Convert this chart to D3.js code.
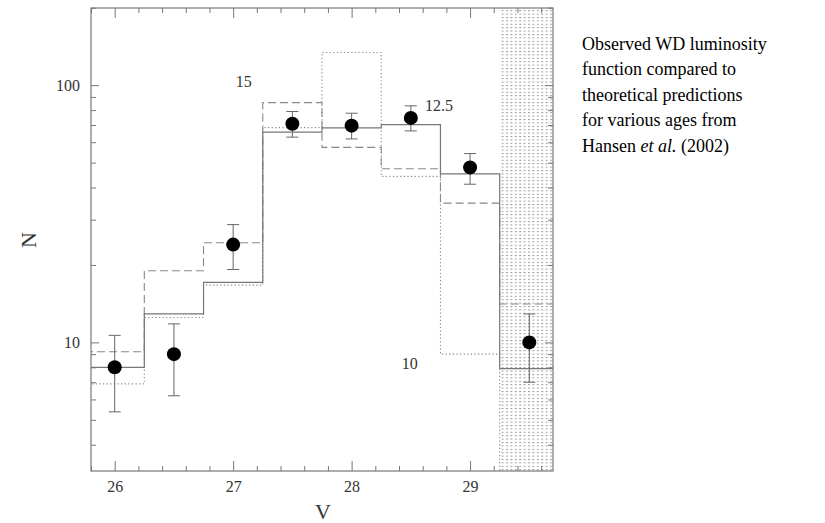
<!DOCTYPE html>
<html>
<head>
<meta charset="utf-8">
<script src="https://cdn.jsdelivr.net/npm/d3@7"></script>
<style>
body { margin: 0; background: #fff; }
svg { display: block; }
.axis path, .axis line { stroke: #777; stroke-width: 1; }
.axis text { font-family: "Liberation Serif", serif; font-size: 16px; fill: #333; }
</style>
</head>
<body>
<svg id="chart"></svg>
<script>
"use strict";

var svg_width = 825;
var svg_height = 523;

// bin left edges (bins are 0.5 mag wide)
var binEdges = [25.75, 26.25, 26.75, 27.25, 27.75, 28.25, 28.75, 29.25, 29.75];
// model histograms (different ages)
var model12 = [8.0, 12.9, 17.1, 65.7, 68.2, 70.2, 45.2, 7.9];   // solid
var model15 = [9.2, 19.0, 24.4, 85.5, 57.3, 47.3, 34.8, 14.1];  // dashed
var model10 = [6.9, 12.5, 16.7, 68.4, 134, 44.2, 9.0, 2.0];     // dotted

// observed counts with error bars
var obsV = [26, 26.5, 27, 27.5, 28, 28.5, 29, 29.5];
var obsN = [8.0, 9.0, 24.0, 70.8, 69.6, 74.6, 47.9, 10.0];
var obsHi = [10.65, 11.8, 28.7, 79.0, 77.8, 83.1, 54.2, 12.9];
var obsLo = [5.37, 6.2, 19.2, 62.8, 61.8, 66.4, 41.2, 7.0];

var xMajor = [26, 27, 28, 29];
var yMajor = [10, 100];
var yMinor = [4, 5, 6, 7, 8, 9, 20, 30, 40, 50, 60, 70, 80, 90, 200];

var ageLabels = [
    {text: "15", v: 27.09, n: 98.5, anchor: "middle"},
    {text: "12.5", v: 28.62, n: 79, anchor: "start"},
    {text: "10", v: 28.49, n: 7.9, anchor: "middle"}
];

var noteLines = ["Observed WD luminosity", "function compared to",
    "theoretical predictions", "for various ages from"];

var pLeft = 91, pRight = 553, pTop = 8, pBottom = 471;

var svg = d3.select("#chart")
    .attr("width", svg_width)
    .attr("height", svg_height);

var xScale = d3.scaleLinear()
    .domain([25.8, 29.7])
    .range([pLeft, pRight]);
var yScale = d3.scaleLog()
    .domain([Math.pow(10, 0.5), Math.pow(10, 2.3)])
    .range([pBottom, pTop]);

var defs = svg.append("defs");
defs.append("clipPath").attr("id", "plotclip")
    .append("rect")
    .attr("x", pLeft).attr("y", pTop)
    .attr("width", pRight - pLeft).attr("height", pBottom - pTop);

var pat = defs.append("pattern")
    .attr("id", "stipple")
    .attr("patternUnits", "userSpaceOnUse")
    .attr("width", 4.4).attr("height", 3.4);
pat.append("rect").attr("x", 0).attr("y", 0)
    .attr("width", 2).attr("height", 1).attr("fill", "#9a9a9a");

// stippled incomplete region
svg.append("rect")
    .attr("x", xScale(29.25))
    .attr("y", pTop)
    .attr("width", xScale(29.7) - xScale(29.25))
    .attr("height", pBottom - pTop)
    .attr("fill", "url(#stipple)");

var plot = svg.append("g").attr("clip-path", "url(#plotclip)");

function stepPoints(vals) {
    var pts = vals.map(function(v, i) { return [binEdges[i], v]; });
    pts.push([binEdges[vals.length], vals[vals.length - 1]]);
    return pts;
}

var line = d3.line()
    .x(function(d) { return xScale(d[0]); })
    .y(function(d) { return yScale(d[1]); })
    .curve(d3.curveStepAfter);

var series = [
    {vals: model10, dash: "1.2,2.4", color: "#888", width: 1.1},
    {vals: model15, dash: "8,4", color: "#888", width: 1.1},
    {vals: model12, dash: null, color: "#777", width: 1.2}
];

plot.selectAll(".hist")
    .data(series)
    .enter()
    .append("path")
    .attr("class", "hist")
    .attr("fill", "none")
    .attr("stroke", function(d) { return d.color; })
    .attr("stroke-width", function(d) { return d.width; })
    .attr("stroke-dasharray", function(d) { return d.dash; })
    .attr("d", function(d) { return line(stepPoints(d.vals)); });

// error bars
var obs = obsV.map(function(v, i) {
    return {v: v, n: obsN[i], hi: obsHi[i], lo: obsLo[i]};
});
var eb = plot.selectAll(".err").data(obs).enter().append("g").attr("class", "err")
    .attr("stroke", "#666").attr("stroke-width", 1);
eb.append("line")
    .attr("x1", function(d) { return xScale(d.v); })
    .attr("x2", function(d) { return xScale(d.v); })
    .attr("y1", function(d) { return yScale(d.hi); })
    .attr("y2", function(d) { return yScale(d.lo); });
eb.append("line")
    .attr("x1", function(d) { return xScale(d.v) - 6; })
    .attr("x2", function(d) { return xScale(d.v) + 6; })
    .attr("y1", function(d) { return yScale(d.hi); })
    .attr("y2", function(d) { return yScale(d.hi); });
eb.append("line")
    .attr("x1", function(d) { return xScale(d.v) - 6; })
    .attr("x2", function(d) { return xScale(d.v) + 6; })
    .attr("y1", function(d) { return yScale(d.lo); })
    .attr("y2", function(d) { return yScale(d.lo); });

plot.selectAll(".point").data(obs).enter()
    .append("circle")
    .attr("class", "point")
    .attr("r", 7)
    .attr("cx", function(d) { return xScale(d.v); })
    .attr("cy", function(d) { return yScale(d.n); })
    .attr("fill", "#000");

// age labels
svg.selectAll(".age").data(ageLabels).enter()
    .append("text")
    .attr("class", "age")
    .attr("x", function(d) { return xScale(d.v); })
    .attr("y", function(d) { return yScale(d.n); })
    .attr("text-anchor", function(d) { return d.anchor; })
    .style("font-family", "Liberation Serif, serif")
    .style("font-size", "16px")
    .style("fill", "#333")
    .text(function(d) { return d.text; });

// axes: ticks point inwards on all four sides
var xMinor = d3.range(25.8, 29.71, 0.2).filter(function(v) {
    return Math.abs(v - Math.round(v)) > 0.01;
});

function drawAxis(axis, transform, cls) {
    var g = svg.append("g").attr("class", "axis " + cls)
        .attr("transform", transform)
        .call(axis);
    g.select(".domain").remove();
    return g;
}

drawAxis(d3.axisBottom(xScale).tickValues(xMajor).tickSize(-10).tickPadding(10)
    .tickFormat(d3.format("d")), "translate(0," + pBottom + ")", "axis--x");
drawAxis(d3.axisBottom(xScale).tickValues(xMinor).tickSize(-5).tickFormat(""),
    "translate(0," + pBottom + ")", "axis--x-minor");
drawAxis(d3.axisTop(xScale).tickValues(xMajor).tickSize(-10).tickFormat(""),
    "translate(0," + pTop + ")", "axis--x2");
drawAxis(d3.axisTop(xScale).tickValues(xMinor).tickSize(-5).tickFormat(""),
    "translate(0," + pTop + ")", "axis--x2-minor");

drawAxis(d3.axisLeft(yScale).tickValues(yMajor).tickSize(-8).tickPadding(11)
    .tickFormat(d3.format("d")), "translate(" + pLeft + ",0)", "axis--y");
drawAxis(d3.axisLeft(yScale).tickValues(yMinor).tickSize(-5).tickFormat(""),
    "translate(" + pLeft + ",0)", "axis--y-minor");
drawAxis(d3.axisRight(yScale).tickValues(yMajor).tickSize(-8).tickFormat(""),
    "translate(" + pRight + ",0)", "axis--y2");
drawAxis(d3.axisRight(yScale).tickValues(yMinor).tickSize(-5).tickFormat(""),
    "translate(" + pRight + ",0)", "axis--y2-minor");

// frame
svg.append("rect")
    .attr("x", pLeft).attr("y", pTop)
    .attr("width", pRight - pLeft).attr("height", pBottom - pTop)
    .attr("fill", "none").attr("stroke", "#777").attr("stroke-width", 1.2);

// axis titles
svg.append("text")
    .attr("text-anchor", "middle")
    .attr("x", (pLeft + pRight) / 2 + 1)
    .attr("y", 519)
    .style("font-family", "Liberation Serif, serif")
    .style("font-size", "22px")
    .style("fill", "#333")
    .text("V");
svg.append("text")
    .attr("text-anchor", "middle")
    .attr("transform", "translate(36,240) rotate(-90)")
    .style("font-family", "Liberation Serif, serif")
    .style("font-size", "22px")
    .style("fill", "#333")
    .text("N");

// caption on the right
var note = svg.append("text")
    .attr("x", 582)
    .attr("y", 49.5)
    .style("font-family", "Liberation Serif, serif")
    .style("font-size", "18px")
    .style("fill", "#000");
noteLines.forEach(function(t, i) {
    note.append("tspan").attr("x", 582).attr("dy", i === 0 ? 0 : 25.5).text(t);
});
var last = note.append("tspan").attr("x", 582).attr("dy", 25.5);
last.append("tspan").text("Hansen ");
last.append("tspan").style("font-style", "italic").text("et al.");
last.append("tspan").text(" (2002)");
</script>
</body>
</html>
